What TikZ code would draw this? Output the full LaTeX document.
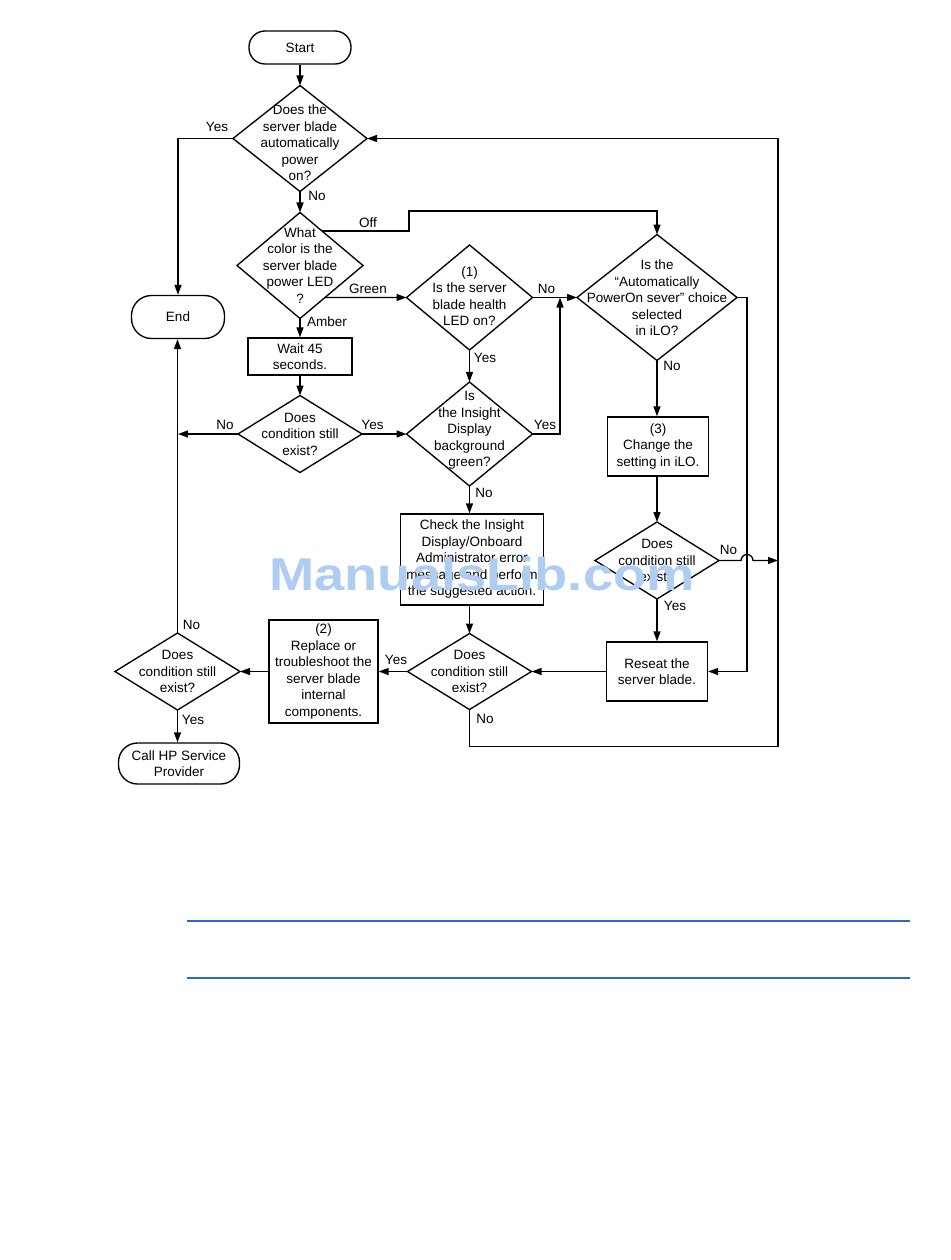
\documentclass[tikz,border=0pt]{standalone}
\usepackage{fontspec}
\setmainfont{Liberation Sans}
\usetikzlibrary{shapes.geometric,arrows.meta,calc}
\definecolor{wmblue}{RGB}{175,205,240}
\definecolor{ruleblue}{RGB}{45,100,210}
\begin{document}
\begin{tikzpicture}[x=1pt,y=-1pt,line width=1.35pt,
  every node/.style={font=\fontsize{13.5}{16.5}\selectfont},
  dia/.style={draw,diamond,inner sep=0pt,outer sep=0pt},
  box/.style={draw,rectangle,inner sep=0pt,align=center},
  term/.style={draw,rectangle,inner sep=0pt,align=center},
  txt/.style={align=center,inner sep=0pt},
  lbl/.style={inner sep=0pt},
  arr/.style={-{Triangle[length=10pt,width=7pt]}}]
\fill[white] (0,0) rectangle (950,1260);
\useasboundingbox (0,0) rectangle (950,1260);

% nodes
\node[term,minimum width=102,minimum height=33,rounded corners=16pt] (start) at (300,47.5) {Start};
\node[dia,minimum width=134,minimum height=106] (d1) at (300,138.5) {};
\node[txt] (t1) at (300,143) {Does the\\server blade\\automatically\\power\\on?};
\node[dia,minimum width=126,minimum height=106] (d2) at (300,265.5) {};
\node[txt] (t2) at (300,265.5) {What\\color is the\\server blade\\power LED\\?};
\node[term,minimum width=93,minimum height=43,rounded corners=20pt] (end) at (178,317) {End};
\node[box,minimum width=104,minimum height=37] (wait) at (300,356.5) {Wait 45\\seconds.};
\node[dia,minimum width=124,minimum height=77] (d4) at (300,434) {};
\node[txt] (t4) at (300,434) {Does\\condition still\\exist?};
\node[dia,minimum width=126,minimum height=105] (d3) at (469.5,297.5) {};
\node[txt] (t3) at (469.5,296) {(1)\\Is the server\\blade health\\LED on?};
\node[dia,minimum width=126,minimum height=104] (d5) at (469.5,434) {};
\node[txt] (t5) at (469.5,430.5) {Is\\the Insight\\Display\\background\\green?};
\node[dia,minimum width=160,minimum height=126] (d6) at (657,297.5) {};
\node[txt] (t6) at (657,298) {Is the\\“Automatically\\PowerOn sever” choice\\selected\\in iLO?};
\node[box,minimum width=101,minimum height=59] (b3) at (658,446.5) {(3)\\Change the\\setting in iLO.};
\node[box,minimum width=143,minimum height=91] (chk) at (472,559.5) {Check the Insight\\Display/Onboard\\Administrator error\\message and perform\\the suggested action.};
\node[dia,minimum width=124,minimum height=77] (d7) at (657,560.5) {};
\node[txt] (t7) at (657,560.5) {Does\\condition still\\exist?};
\node[box,minimum width=101,minimum height=59] (rs) at (657,671.5) {Reseat the\\server blade.};
\node[dia,minimum width=124,minimum height=76] (d8) at (469.5,671.5) {};
\node[txt] (t8) at (469.5,671.5) {Does\\condition still\\exist?};
\node[box,minimum width=109,minimum height=103] (b2) at (323.5,671.5) {(2)\\Replace or\\troubleshoot the\\server blade\\internal\\components.};
\node[dia,minimum width=125,minimum height=77] (d9) at (177.5,671.5) {};
\node[txt] (t9) at (177.5,671.5) {Does\\condition still\\exist?};
\node[term,minimum width=121,minimum height=41,rounded corners=19pt] (call) at (179,763.5) {Call HP Service\\Provider};

% helper coordinates
\coordinate (off) at ($(d2.north)!0.35!(d2.east)$);
\coordinate (gr) at ($(d2.east)!0.604!(d2.south)$);
\coordinate (j1) at (560,297.5);
\coordinate (j2) at (778,560.5);

% connectors
\draw[arr] (start) -- (d1);
\draw[arr] (d1) -- (d2);
\draw[arr] (d1.west) -| (end.north);
\draw[arr] (off) -| (409,211) -| (d6.north);
\draw[arr] (gr) -- (d3.west);
\draw[arr] (d2) -- (wait);
\draw[arr] (wait) -- (d4);
\draw[arr] (d4.west) -- (d4.west -| end.south);
\draw[arr] (d4.east) -- (d5.west);
\draw[arr] (d3) -- (d5);
\draw[arr] (d3.east) -- (d6.west);
\draw[arr] (d5.east) -| (j1);
\draw[arr] (d5.south) -- (d5.south |- chk.north);
\draw[arr] (chk.south -| d8.north) -- (d8.north);
\draw[arr] (d6.south) -- (d6.south |- b3.north);
\draw[arr] (b3.south -| d7.north) -- (d7.north);
\draw[arr] (d7) -- (rs);
\draw[arr] (d7.east) -- (741,560.5) arc[start angle=180,end angle=0,radius=6pt] -- (j2);
\draw[arr] (d6.east) -- (747,297.5) |- (rs.east);
\draw[arr] (rs.west) -- (d8.east);
\draw[arr] (d8.west) -- (b2.east);
\draw[arr] (b2.west) -- (d9.east);
\draw[arr] (d8.south) |- (778,746.5) |- (d1.east);
\draw[arr] (d9.north) -- (d9.north |- end.south);
\draw[arr] (d9.south) -- (d9.south |- call.north);

% connector labels
\node[lbl] (l1) at (217,127) {Yes};
\node[lbl] (l2) at (317,196) {No};
\node[lbl] (l3) at (368,223) {Off};
\node[lbl] (l4) at (368,289) {Green};
\node[lbl] (l5) at (327,321.5) {Amber};
\node[lbl] (l6) at (546.5,289) {No};
\node[lbl] (l7) at (485,358) {Yes};
\node[lbl] (l8) at (545,425) {Yes};
\node[lbl] (l9) at (672,366) {No};
\node[lbl] (l10) at (372.5,425) {Yes};
\node[lbl] (l11) at (225,424.5) {No};
\node[lbl] (l12) at (484,492.5) {No};
\node[lbl] (l13) at (728.5,550) {No};
\node[lbl] (l14) at (675,606) {Yes};
\node[lbl] (l15) at (396,660) {Yes};
\node[lbl] (l16) at (485,719) {No};
\node[lbl] (l17) at (191.5,625) {No};
\node[lbl] (l18) at (193,720) {Yes};

% watermark
\node[inner sep=0pt,anchor=base,text=wmblue,xscale=1.18,font=\fontsize{46}{50}\selectfont\bfseries] (wmk) at (482,590) {ManualsLib.com};

% page rules
\draw[ruleblue,line width=1.3pt] (187,921) -- (910,921);
\draw[ruleblue,line width=1.3pt] (187,978) -- (910,978);
\end{tikzpicture}
\end{document}
